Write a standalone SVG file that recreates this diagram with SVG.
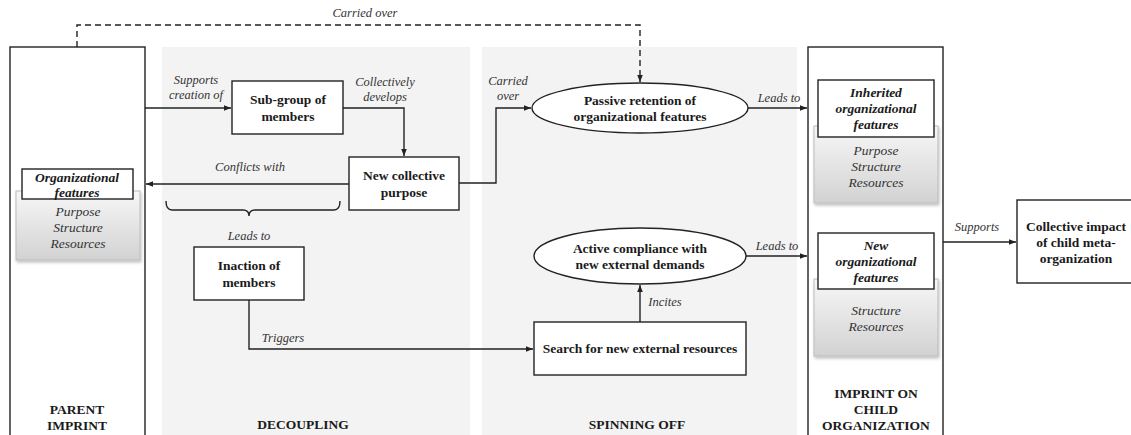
<svg xmlns="http://www.w3.org/2000/svg" width="1131" height="435" viewBox="0 0 1131 435">
<style>
text{font-family:'Liberation Serif','Times New Roman','DejaVu Serif',serif}
.b{font-weight:bold;font-size:13.5px;fill:#1a1a1a;text-anchor:middle}
.bi{font-weight:bold;font-style:italic;font-size:13.5px;fill:#1a1a1a;text-anchor:middle}
.i{font-style:italic;font-size:12.5px;fill:#333;text-anchor:middle}
.ig{font-style:italic;font-size:13.5px;fill:#333;text-anchor:middle}
.box{fill:#fff;stroke:#222;stroke-width:1.4}
.ln{fill:none;stroke:#222;stroke-width:1.4}
.panel{fill:#f3f3f3}
.gbox{fill:url(#gg);stroke:#bbb;stroke-width:1;filter:url(#sh)}
</style>
<defs>
<linearGradient id="gg" x1="0" y1="0" x2="0" y2="1">
<stop offset="0" stop-color="#f7f7f7"/>
<stop offset="1" stop-color="#d2d2d2"/>
</linearGradient>
<filter id="sh" x="-10%" y="-10%" width="130%" height="130%">
<feDropShadow dx="1" dy="2" stdDeviation="1.5" flood-color="#000" flood-opacity="0.25"/>
</filter>
<marker id="ah" viewBox="0 0 10 10" refX="10" refY="5" markerWidth="7" markerHeight="7" orient="auto" markerUnits="userSpaceOnUse">
<path d="M0,1 L10,5 L0,9 z" fill="#222"/>
</marker>
</defs>
<rect width="1131" height="435" fill="#fff"/>

<g id="panel-decoupling">
<rect class="panel" x="162" y="47" width="308" height="390"/>
<text class="b" x="303" y="429">DECOUPLING</text>
</g>
<g id="panel-spinning">
<rect class="panel" x="482" y="47" width="315" height="390"/>
<text class="b" x="637" y="429">SPINNING OFF</text>
</g>

<g id="parent-imprint">
<rect class="box" x="10" y="47" width="135" height="400"/>
<rect class="gbox" x="16" y="191" width="124" height="69"/>
<rect class="box" x="22" y="169" width="111" height="30"/>
<text class="bi" x="77" y="182">Organizational</text>
<text class="bi" x="77" y="197">features</text>
<text class="ig" x="78" y="216">Purpose</text>
<text class="ig" x="78" y="232">Structure</text>
<text class="ig" x="78" y="248">Resources</text>
<text class="b" x="77" y="414">PARENT</text>
<text class="b" x="77" y="430">IMPRINT</text>
</g>

<g id="subgroup">
<rect class="box" x="232" y="81" width="111" height="53"/>
<text class="b" x="288" y="104">Sub-group of</text>
<text class="b" x="288" y="121">members</text>
</g>

<g id="new-purpose">
<rect class="box" x="349" y="157" width="110" height="53"/>
<text class="b" x="404" y="180">New collective</text>
<text class="b" x="404" y="197">purpose</text>
</g>

<g id="inaction">
<rect class="box" x="194" y="247" width="110" height="53"/>
<text class="b" x="249" y="270">Inaction of</text>
<text class="b" x="249" y="287">members</text>
</g>

<g id="passive">
<ellipse cx="640" cy="108" rx="108" ry="25" fill="#fff" stroke="#222" stroke-width="1.4"/>
<text class="b" x="640" y="105">Passive retention of</text>
<text class="b" x="640" y="121">organizational features</text>
</g>

<g id="active">
<ellipse cx="640" cy="256" rx="106" ry="28" fill="#fff" stroke="#222" stroke-width="1.4"/>
<text class="b" x="640" y="253">Active compliance with</text>
<text class="b" x="640" y="269">new external demands</text>
</g>

<g id="search">
<rect class="box" x="534" y="322" width="212" height="53"/>
<text class="b" x="640" y="353">Search for new external resources</text>
</g>

<g id="child-imprint">
<rect class="box" x="808" y="47" width="135" height="400"/>
<rect class="gbox" x="814" y="126" width="124" height="77"/>
<rect class="box" x="818" y="80" width="116" height="57"/>
<text class="bi" x="876" y="97">Inherited</text>
<text class="bi" x="876" y="113">organizational</text>
<text class="bi" x="876" y="129">features</text>
<text class="ig" x="876" y="155">Purpose</text>
<text class="ig" x="876" y="171">Structure</text>
<text class="ig" x="876" y="187">Resources</text>
<rect class="gbox" x="814" y="279" width="124" height="77"/>
<rect class="box" x="818" y="233" width="116" height="56"/>
<text class="bi" x="876" y="250">New</text>
<text class="bi" x="876" y="266">organizational</text>
<text class="bi" x="876" y="282">features</text>
<text class="ig" x="876" y="315">Structure</text>
<text class="ig" x="876" y="331">Resources</text>
<text class="b" x="876" y="398">IMPRINT ON</text>
<text class="b" x="876" y="414">CHILD</text>
<text class="b" x="876" y="430">ORGANIZATION</text>
</g>

<g id="collective-impact">
<rect class="box" x="1017" y="200" width="120" height="83"/>
<text class="b" x="1076" y="231">Collective impact</text>
<text class="b" x="1076" y="247">of child meta-</text>
<text class="b" x="1076" y="263">organization</text>
</g>

<g id="connectors">
<path class="ln" d="M77,47 V25 H640 V82" stroke-dasharray="6,4" marker-end="url(#ah)"/>
<text class="i" x="365" y="17">Carried over</text>

<path class="ln" d="M145,108 H231" marker-end="url(#ah)"/>
<text class="i" x="196" y="84">Supports</text>
<text class="i" x="196" y="99">creation of</text>

<path class="ln" d="M343,108 H404 V156" marker-end="url(#ah)"/>
<text class="i" x="385" y="86">Collectively</text>
<text class="i" x="385" y="101">develops</text>

<path class="ln" d="M459,183 H496 V108 H531" marker-end="url(#ah)"/>
<text class="i" x="508" y="85">Carried</text>
<text class="i" x="508" y="100">over</text>

<path class="ln" d="M349,184 H146" marker-end="url(#ah)"/>
<text class="i" x="250" y="171">Conflicts with</text>

<path class="ln" d="M166,201 Q166,210 172,210 H243 Q249,210 249,216 Q249,210 255,210 H334 Q340,210 340,201"/>
<text class="i" x="249" y="240">Leads to</text>

<path class="ln" d="M249,300 V349 H533" marker-end="url(#ah)"/>
<text class="i" x="283" y="342">Triggers</text>

<path class="ln" d="M640,322 V285" marker-end="url(#ah)"/>
<text class="i" x="665" y="306">Incites</text>

<path class="ln" d="M748,108 H807" marker-end="url(#ah)"/>
<text class="i" x="779" y="102">Leads to</text>

<path class="ln" d="M746,256 H807" marker-end="url(#ah)"/>
<text class="i" x="777" y="250">Leads to</text>

<path class="ln" d="M943,242 H1016" marker-end="url(#ah)"/>
<text class="i" x="977" y="231">Supports</text>
</g>
</svg>
